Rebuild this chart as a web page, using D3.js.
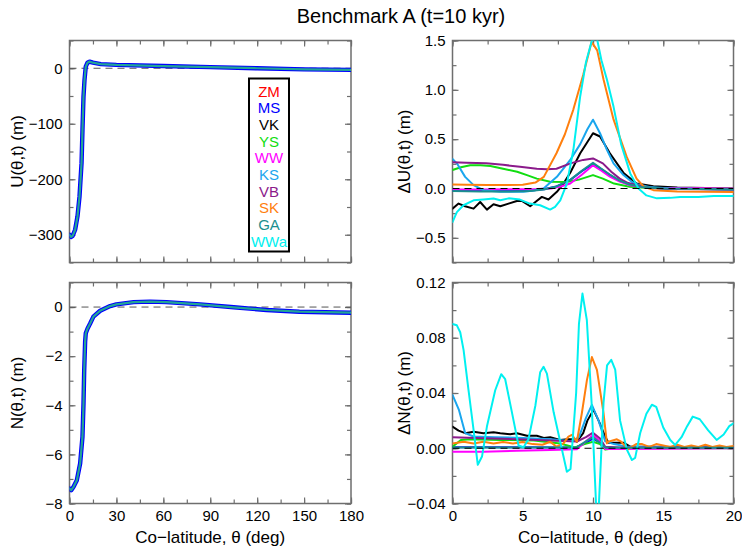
<!DOCTYPE html>
<html><head><meta charset="utf-8">
<script src="https://cdn.jsdelivr.net/npm/d3@7"></script>
<style>
html,body{margin:0;padding:0;background:#fff;}
svg{display:block;font-family:"Liberation Sans",Arial,Helvetica,sans-serif;}
</style></head><body>
<svg id="c" width="742" height="549"></svg>
<script>
// ---------------- data ----------------
const models = ["ZM","MS","VK","YS","WW","KS","VB","SK","GA","WWa"];
const modelColors = ["#ff0000","#0000ff","#000000","#11dd11","#ff00ff","#1aa6ee","#8b1a8b","#ff7f0e","#1a8f8f","#00f0f0"];

const xTicksLeft = [0,30,60,90,120,150,180];
const xTicksRight = [0,5,10,15,20];
const yTicksU = [-300,-200,-100,0];
const yTicksN = [-8,-6,-4,-2,0];
const yTicksDU = [-0.5,0.0,0.5,1.0,1.5];
const yTicksDN = [-0.04,0.00,0.04,0.08,0.12];

// U(theta,t) profile (all models overlap at this scale)
const uProfile = [[0,-300],[1,-304],[2,-302],[3.6,-291],[5.1,-267],[6.4,-231],[7.7,-171],[8.3,-111],[8.95,-51],[9.6,-21],[10.4,3],[11.5,10],[12.8,12],[15,10],[20,7.5],[30,6],[60,4],[90,2],[120,0],[150,-2],[180,-3]];
// N(theta,t) profile
const nProfile = [[0,-7.39],[1.1,-7.46],[2.6,-7.32],[4.7,-7.05],[6.8,-6.37],[8.3,-5.28],[8.95,-3.93],[9.4,-2.57],[10,-1.4],[10.4,-1.07],[11.5,-0.88],[13.2,-0.67],[15.3,-0.39],[19.6,-0.15],[26,0.04],[30,0.11],[41,0.2],[51.5,0.22],[62,0.2],[83.5,0.11],[105,-0.01],[126,-0.12],[147,-0.19],[180,-0.23]];

// Delta U (relative to ZM)
const dU_MS = [[0,-0.02],[2,-0.025],[4,-0.025],[5.5,-0.02],[6.5,-0.008],[7.4,0.02],[8.4,0.088],[9.2,0.175],[10,0.25],[10.6,0.195],[11.2,0.135],[11.9,0.078],[12.6,0.04],[13.5,0.015],[15,0],[20,-0.01]];
const dU_VK = [[0,-0.204],[0.43,-0.153],[0.9,-0.18],[1.5,-0.204],[1.97,-0.137],[2.45,-0.214],[2.92,-0.16],[3.4,-0.18],[3.99,-0.153],[4.58,-0.126],[4.94,-0.126],[5.53,-0.18],[5.9,-0.137],[6.36,-0.085],[6.83,-0.112],[7.43,-0.034],[7.9,0.05],[8.38,0.16],[9.09,0.357],[10,0.56],[10.5,0.527],[11.2,0.357],[12.2,0.153],[13.1,0.05],[14.3,0.024],[16,0.01],[20,0]];
const dU_YS = [[0,0.187],[0.6,0.215],[1.26,0.235],[2,0.235],[2.7,0.228],[3.6,0.2],[4.6,0.17],[5.3,0.135],[6,0.1],[6.95,0.068],[8.1,0.065],[9,0.09],[10,0.136],[10.7,0.1],[11.5,0.05],[12.6,0.018],[14,0.005],[20,0]];
const dU_WW = [[0,-0.01],[2,-0.01],[4,-0.008],[6,-0.005],[7,0],[7.7,0.02],[8.38,0.05],[9.2,0.14],[10,0.235],[10.6,0.18],[11.2,0.12],[11.9,0.07],[12.6,0.034],[13.5,0.015],[14.3,0.008],[20,0]];
const dU_KS = [[0,0.3],[0.31,0.255],[0.9,0.118],[1.5,0.034],[2.2,-0.017],[3.4,-0.034],[5.05,-0.034],[5.8,-0.02],[6.48,0],[7.43,0.118],[8.38,0.289],[9.09,0.45],[9.6,0.6],[10,0.697],[10.5,0.56],[11,0.39],[11.46,0.255],[12.17,0.136],[12.9,0.05],[14,0.015],[15.5,0],[20,-0.01]];
const dU_VB = [[0,0.265],[1,0.262],[2.4,0.255],[3.6,0.24],[4.8,0.22],[6,0.2],[6.7,0.195],[7.4,0.2],[8.4,0.255],[9.3,0.29],[10,0.305],[10.7,0.255],[11.3,0.17],[11.9,0.1],[12.5,0.055],[13.1,0.035],[14,0.005],[15.5,-0.005],[20,-0.01]];
const dU_SK = [[0,0.04],[1,0.037],[2.5,0.035],[4,0.035],[5,0.037],[5.9,0.06],[6.5,0.118],[7.4,0.357],[8,0.55],[8.6,0.8],[9.3,1.15],[9.9,1.486],[10.3,1.4],[10.75,1.105],[11.46,0.70],[12.4,0.32],[13.1,0.1],[13.6,0.02],[14.3,-0.017],[16,-0.03],[20,-0.035]];
const dU_GA = [[0,-0.025],[2,-0.03],[4,-0.03],[5.5,-0.025],[6.5,-0.01],[7.4,0.02],[8.4,0.09],[9.2,0.18],[10,0.26],[10.6,0.2],[11.2,0.14],[11.9,0.08],[12.6,0.04],[13.5,0.015],[15,0],[20,-0.01]];
const dU_WWa = [[0,-0.34],[0.31,-0.24],[0.78,-0.17],[1.5,-0.12],[2.2,-0.112],[2.92,-0.102],[3.4,-0.12],[4,-0.1],[4.8,-0.112],[5.5,-0.153],[6.24,-0.17],[6.95,-0.214],[7.3,-0.187],[7.67,-0.12],[8.14,0.05],[8.6,0.39],[9.09,0.935],[9.5,1.28],[9.92,1.5],[10.28,1.52],[10.6,1.3],[10.99,1.105],[11.46,0.83],[12.0,0.45],[12.65,0.153],[13.24,0],[13.8,-0.07],[14.55,-0.1],[15.5,-0.095],[16.2,-0.085],[17.5,-0.085],[18.6,-0.075],[20,-0.075]];

// Delta N (relative to ZM)
const dN_MS = [[0,0.0008],[5,0.0008],[8.8,0.0006],[9.5,0.004],[10,0.007],[10.5,0.004],[10.9,0.0003],[20,0.0002]];
const dN_VK = [[0,0.0157],[0.43,0.0128],[0.9,0.0109],[1.5,0.012],[2.2,0.0109],[2.92,0.0116],[3.4,0.0109],[4.1,0.0102],[4.58,0.0109],[5.3,0.009],[6.0,0.009],[6.5,0.0075],[6.95,0.008],[7.66,0.006],[8.2,0.0065],[8.6,0.0065],[8.85,0.0047],[9.3,0.011],[9.6,0.02],[10.04,0.0278],[10.4,0.02],[10.87,0.0084],[11.1,0.004],[12.17,0.004],[12.65,0.0012],[14,0.001],[20,0.0005]];
const dN_YS = [[0,0.0012],[0.6,0.006],[1.3,0.0066],[3.4,0.006],[5.8,0.0056],[7.66,0.0035],[8.7,0.0006],[9.4,0.003],[10.0,0.0047],[10.5,0.003],[10.87,-0.001],[11.5,0],[20,0]];
const dN_WW = [[0,-0.0025],[2.2,-0.0025],[4.58,-0.0018],[6.95,-0.0012],[8.85,-0.0007],[9.5,0.005],[10.0,0.0096],[10.5,0.005],[10.87,-0.0005],[12,-0.0005],[15,-0.0003],[20,0]];
const dN_KS = [[0,0.0386],[0.45,0.028],[0.9,0.011],[1.5,0.0085],[3,0.008],[5,0.0075],[7,0.0065],[8.5,0.005],[9,0.008],[9.5,0.022],[9.92,0.0314],[10.4,0.02],[10.87,0.005],[11.5,0.003],[12.5,0.001],[20,0.0005]];
const dN_VB = [[0,0.0079],[2.2,0.0073],[4.58,0.0066],[6.95,0.0056],[8.85,0.0049],[9.5,0.008],[10.0,0.0113],[10.5,0.007],[10.87,0.001],[12,0.0005],[20,0.0005]];
const dN_SK = [[0,0.0035],[0.8,0.0047],[1.5,0.0035],[2.2,0.0047],[2.92,0.0035],[3.6,0.0045],[4.3,0.0035],[5.0,0.0045],[5.7,0.003],[6.4,0.0025],[6.95,0.0047],[7.4,0.0012],[7.9,0.0035],[8.25,0.0084],[8.5,0.0097],[8.85,0.0047],[9.2,0.025],[9.57,0.0495],[9.92,0.066],[10.28,0.0567],[10.75,0.0254],[10.99,0.0036],[11.1,0.0048],[11.7,0.0065],[12.0,0.0048],[12.5,-0.0007],[13.1,0.0031],[13.5,0.003],[14.0,0.001],[14.5,0.003],[15,0.002],[15.5,0.001],[16,0.0025],[16.5,0.001],[17,0.002],[17.5,0.001],[18,0.0025],[18.5,0.001],[19,0.002],[19.5,0.001],[20,0.0016]];
const dN_GA = [[0,0.0005],[5,0.0005],[8.8,0.0005],[9.5,0.005],[10,0.008],[10.5,0.004],[10.9,0.0003],[20,0.0003]];
const dN_WWa = [[0,0.09],[0.31,0.089],[0.55,0.084],[0.79,0.071],[1.14,0.042],[1.5,0.0133],[1.8,-0.012],[2.1,-0.006],[2.45,0.0157],[3.04,0.042],[3.47,0.0536],[3.75,0.05],[4.23,0.026],[4.7,0.002],[5.06,0.0007],[5.41,0.0066],[5.9,0.031],[6.24,0.055],[6.48,0.059],[6.72,0.054],[7.2,0.026],[7.9,-0.006],[8.14,-0.017],[8.4,-0.015],[8.8,0.04],[9.0,0.09],[9.25,0.112],[9.56,0.093],[9.9,0.033],[10.25,-0.048],[10.4,-0.045],[10.75,0.033],[11.0,0.06],[11.3,0.064],[11.58,0.057],[11.93,0.02],[12.41,-0.001],[12.77,-0.0085],[13.0,-0.007],[13.36,0.011],[13.8,0.025],[14.19,0.0315],[14.5,0.03],[15.0,0.015],[15.5,0.006],[15.85,0.0024],[16.3,0.008],[16.7,0.016],[17.1,0.0229],[17.6,0.021],[18.2,0.013],[18.8,0.006],[19.3,0.01],[19.7,0.016],[20,0.018]];

// ---------------- drawing ----------------
const svg = d3.select("#c");
const FRAME = "#6e6e6e";

const L = {x0:69.5, x1:351}, R = {x0:452.5, x1:733.5};
const T = {y0:40.5, y1:262.5}, B = {y0:282.5, y1:503.5};

function panel(id, xr, yr, xDom, yDom, xMajor, xMinor, yMajor, yMinor, yFmt, xLabels, yLabel, yLabelX){
  const x = d3.scaleLinear().domain(xDom).range([xr.x0, xr.x1]);
  const y = d3.scaleLinear().domain(yDom).range([yr.y1, yr.y0]);
  const g = svg.append("g");
  svg.append("clipPath").attr("id","clip"+id).append("rect")
    .attr("x",xr.x0).attr("y",yr.y0).attr("width",xr.x1-xr.x0).attr("height",yr.y1-yr.y0);
  function axis(gen, vals, size, fmt, tx, ty){
    const a = g.append("g").attr("transform",`translate(${tx},${ty})`)
      .call(gen.tickValues(vals).tickSize(size).tickPadding(7).tickFormat(fmt));
    a.select(".domain").remove();
    a.selectAll("line").attr("stroke",FRAME).attr("stroke-width",1.2);
    a.selectAll("text").attr("font-size",15).attr("fill","#000");
    return a;
  }
  const none = () => "";
  // bottom
  axis(d3.axisBottom(x), xMinor, -4, none, 0, yr.y1);
  axis(d3.axisBottom(x), xMajor, -6, xLabels ? (d=>d3.format("d")(d)) : none, 0, yr.y1)
    .selectAll("text").attr("y", 7).attr("dy","0.71em");
  // top
  axis(d3.axisTop(x), xMinor, -4, none, 0, yr.y0);
  axis(d3.axisTop(x), xMajor, -6, none, 0, yr.y0);
  // left
  axis(d3.axisLeft(y), yMinor, -4, none, xr.x0, 0);
  axis(d3.axisLeft(y), yMajor, -6, yFmt, xr.x0, 0).selectAll("text").attr("x",-7);
  // right
  axis(d3.axisRight(y), yMinor, -4, none, xr.x1, 0);
  axis(d3.axisRight(y), yMajor, -6, none, xr.x1, 0);
  // frame
  g.append("rect").attr("x",xr.x0).attr("y",yr.y0).attr("width",xr.x1-xr.x0).attr("height",yr.y1-yr.y0)
    .attr("fill","none").attr("stroke",FRAME).attr("stroke-width",1.5);
  // y label
  svg.append("text").attr("transform",`translate(${yLabelX},${(yr.y0+yr.y1)/2}) rotate(-90)`)
    .attr("text-anchor","middle").attr("dominant-baseline","central").attr("font-size",17).text(yLabel);
  if (xLabels){
    svg.append("text").attr("x",(xr.x0+xr.x1)/2).attr("y",537).attr("text-anchor","middle")
      .attr("dominant-baseline","central").attr("font-size",17).text("Co\u2212latitude, \u03b8 (deg)");
  }
  const plot = svg.append("g").attr("clip-path",`url(#clip${id})`);
  return {x,y,plot};
}

function line(p, data, color, w){
  p.plot.append("path").datum(data)
    .attr("d", d3.line().x(d=>p.x(d[0])).y(d=>p.y(d[1])))
    .attr("fill","none").attr("stroke",color).attr("stroke-width",w)
    .attr("stroke-linejoin","round").attr("stroke-linecap","round");
}
function zero(p, dom, color){
  p.plot.append("line").attr("x1",p.x(dom[0])).attr("x2",p.x(dom[1]))
    .attr("y1",p.y(0)).attr("y2",p.y(0)).attr("stroke",color).attr("stroke-width",1)
    .attr("stroke-dasharray","7,5");
}
// left panels: every model overlaps; MS (widest) over the thin ones, GA centre line last
function overlapping(p, data){
  models.forEach((m,i)=>{ if (m!=="MS" && m!=="GA") line(p, data, modelColors[i], 1.4); });
  line(p, data, modelColors[models.indexOf("MS")], 4.4);
  line(p, data, "#22a596", 2.2);
}

const fmt1 = d3.format(".1f"), fmt2 = d3.format(".2f"), fmtD = d3.format("d");

// Top-left U
const pU = panel("U", L, T, [0,180], [-350,50], xTicksLeft, d3.range(0,181,15), yTicksU, d3.range(-350,51,50), fmtD, false, "U(\u03b8,t) (m)", 17);
zero(pU, [0,180], "#555");
overlapping(pU, uProfile);

// Bottom-left N
const pN = panel("N", L, B, [0,180], [-8,1], xTicksLeft, d3.range(0,181,15), yTicksN, d3.range(-8,2,1), fmtD, true, "N(\u03b8,t) (m)", 17);
zero(pN, [0,180], "#555");
overlapping(pN, nProfile);

// Top-right dU
const pDU = panel("DU", R, T, [0,20], [-0.75,1.5], xTicksRight, d3.range(0,20.01,2.5), yTicksDU, d3.range(-0.75,1.51,0.25), fmt1, false, "\u0394U(\u03b8,t) (m)", 404);
const dUsets = {MS:dU_MS,VK:dU_VK,YS:dU_YS,WW:dU_WW,KS:dU_KS,VB:dU_VB,SK:dU_SK,GA:dU_GA,WWa:dU_WWa};
models.forEach((m,i)=>{ if (dUsets[m]) line(pDU, dUsets[m], modelColors[i], 2); });
zero(pDU, [0,20], "#000");

// Bottom-right dN
const pDN = panel("DN", R, B, [0,20], [-0.04,0.12], xTicksRight, d3.range(0,20.01,2.5), yTicksDN, d3.range(-0.04,0.1201,0.02), fmt2, true, "\u0394N(\u03b8,t) (m)", 404);
const dNsets = {MS:dN_MS,VK:dN_VK,YS:dN_YS,WW:dN_WW,KS:dN_KS,VB:dN_VB,SK:dN_SK,GA:dN_GA,WWa:dN_WWa};
models.forEach((m,i)=>{ if (dNsets[m]) line(pDN, dNsets[m], modelColors[i], 2); });
zero(pDN, [0,20], "#000");

// Legend
const lg = svg.append("g");
lg.append("rect").attr("x",249).attr("y",78.5).attr("width",40).attr("height",173)
  .attr("fill","#fff").attr("stroke","#000").attr("stroke-width",2);
models.forEach((m,i)=>{
  lg.append("text").attr("x",269).attr("y",91 + i*16.7).attr("text-anchor","middle")
    .attr("dominant-baseline","central").attr("font-size",15).attr("fill",modelColors[i]).text(m);
});

// Title
svg.append("text").attr("x",401).attr("y",16).attr("text-anchor","middle").attr("dominant-baseline","central")
  .attr("font-size",20).text("Benchmark A (t=10 kyr)");
</script>
</body></html>
